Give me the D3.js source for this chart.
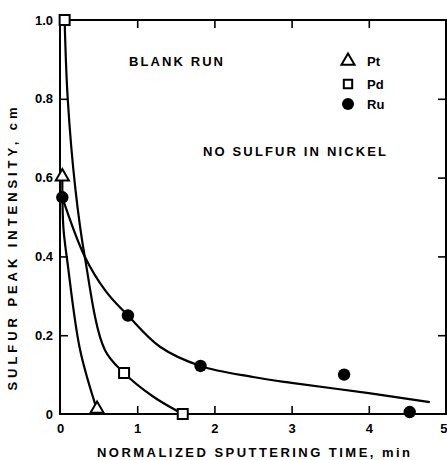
<!DOCTYPE html>
<html><head><meta charset="utf-8">
<script src="https://cdn.jsdelivr.net/npm/d3@7"></script>
<style>body{margin:0;background:#fff}svg{display:block}text{font-family:"Liberation Sans",Arial,sans-serif;font-weight:bold;fill:#000}</style>
</head><body>
<script>
// Measured points
const ptPoints = [[0.03,0.60],[0.48,0.01]];
const pdPoints = [[0.06,1.00],[0.83,0.104],[1.59,0.0]];
const ruPoints = [[0.03,0.55],[0.88,0.25],[1.82,0.122],[3.68,0.10],[4.53,0.005]];
// Hand-drawn smooth curves
const ptCurve = [[0.03,0.60],[0.032,0.54],[0.045,0.47],[0.10,0.38],[0.26,0.163],[0.48,0.01]];
const pdCurve = [[0.06,1.00],[0.10,0.80],[0.20,0.57],[0.32,0.40],[0.58,0.163],[0.83,0.104],[1.2,0.045],[1.59,0.0]];
const ruCurve = [[0.03,0.55],[0.32,0.40],[0.6,0.31],[0.88,0.25],[1.3,0.17],[1.82,0.122],[2.5,0.094],[3,0.079],[4,0.053],[4.79,0.03]];
const xTicks = [0,1,2,3,4,5];
const yTicks = [0,0.2,0.4,0.6,0.8,1.0];
const legendItems = ["Pt","Pd","Ru"];

const W=447,H=460,FS="13px";
const svg=d3.select("body").append("svg").attr("width",W).attr("height",H);
const x=d3.scaleLinear().domain([0,5]).range([60,446]);
const y=d3.scaleLinear().domain([0,1]).range([414,20]);

const fmtY=d=>d===0?"0":d3.format(".1f")(d);
function styleAxis(g){g.select(".domain").remove();g.selectAll("line").attr("stroke","#000").attr("stroke-width",1.6);g.selectAll("text").style("font-size",FS).style("font-family","'Liberation Sans',Arial,sans-serif").style("font-weight","bold");}

const bx=svg.append("g").attr("transform",`translate(0,${y(0)})`)
  .call(d3.axisBottom(x).tickValues(xTicks).tickSize(-8).tickPadding(10).tickFormat(d3.format("d"))).call(styleAxis);
bx.selectAll(".tick").filter(d=>d===0||d===5).select("line").remove();
bx.selectAll(".tick").filter(d=>d===5).select("text").attr("text-anchor","end").attr("x",1);
svg.append("g").attr("transform",`translate(0,${y(1)})`)
  .call(d3.axisTop(x).tickValues(xTicks.slice(1,5)).tickSize(-8).tickFormat("")).call(styleAxis);
svg.append("g").attr("transform",`translate(${x(0)},0)`)
  .call(d3.axisLeft(y).tickValues(yTicks).tickSize(-8).tickPadding(7).tickFormat(fmtY)).call(styleAxis)
  .selectAll(".tick").filter(d=>d===0||d===1).select("line").remove();
svg.append("g").attr("transform",`translate(${x(5)},0)`)
  .call(d3.axisRight(y).tickValues(yTicks.slice(1,5)).tickSize(-8).tickFormat("")).call(styleAxis);

// frame
svg.append("rect").attr("x",x(0)).attr("y",y(1)).attr("width",x(5)-x(0)).attr("height",y(0)-y(1))
  .attr("fill","none").attr("stroke","#000").attr("stroke-width",2);

const line=d3.line().x(d=>x(d[0])).y(d=>y(d[1])).curve(d3.curveCatmullRom.alpha(0.5));
[ptCurve,pdCurve,ruCurve].forEach(c=>svg.append("path").attr("d",line(c)).attr("fill","none").attr("stroke","#000").attr("stroke-width",2.2));

const tri=d3.symbol().type(d3.symbolTriangle).size(75);
const sq=d3.symbol().type(d3.symbolSquare).size(100);
svg.selectAll(".pt").data(ptPoints).join("path").attr("d",tri).attr("transform",d=>`translate(${x(d[0])},${y(d[1])-1})`).attr("fill","#fff").attr("stroke","#000").attr("stroke-width",2);
svg.selectAll(".pd").data(pdPoints).join("path").attr("d",sq).attr("transform",d=>`translate(${x(d[0])},${y(d[1])})`).attr("fill","#fff").attr("stroke","#000").attr("stroke-width",2);
svg.selectAll(".ru").data(ruPoints).join("circle").attr("cx",d=>x(d[0])).attr("cy",d=>y(d[1])).attr("r",6.2).attr("fill","#000");

// legend
const lg=svg.append("g");
const ly=[61,84,104];
lg.append("path").attr("d",tri).attr("transform",`translate(348,${ly[0]})`).attr("fill","#fff").attr("stroke","#000").attr("stroke-width",2);
lg.append("path").attr("d",d3.symbol().type(d3.symbolSquare).size(70)).attr("transform",`translate(348,${ly[1]})`).attr("fill","#fff").attr("stroke","#000").attr("stroke-width",2);
lg.append("circle").attr("cx",348).attr("cy",ly[2]).attr("r",6).attr("fill","#000");
legendItems.forEach((t,i)=>lg.append("text").attr("x",367).attr("y",ly[i]).attr("dy","0.36em").style("font-size",FS).text(t));

// annotations
svg.append("text").attr("x",129).attr("y",61).attr("dy","0.36em").style("font-size",FS).attr("textLength",94).attr("lengthAdjust","spacing").text("BLANK RUN");
svg.append("text").attr("x",203).attr("y",151).attr("dy","0.36em").style("font-size",FS).attr("textLength",183).attr("lengthAdjust","spacing").text("NO SULFUR IN NICKEL");
svg.append("text").attr("x",97).attr("y",452).attr("dy","0.36em").style("font-size",FS).attr("textLength",313).attr("lengthAdjust","spacing").text("NORMALIZED SPUTTERING TIME, min");
svg.append("text").attr("transform","translate(12,249) rotate(-90)").attr("text-anchor","middle").attr("dy","0.36em").style("font-size",FS).attr("textLength",283).attr("lengthAdjust","spacing").text("SULFUR PEAK INTENSITY, cm");
</script>
</body></html>
